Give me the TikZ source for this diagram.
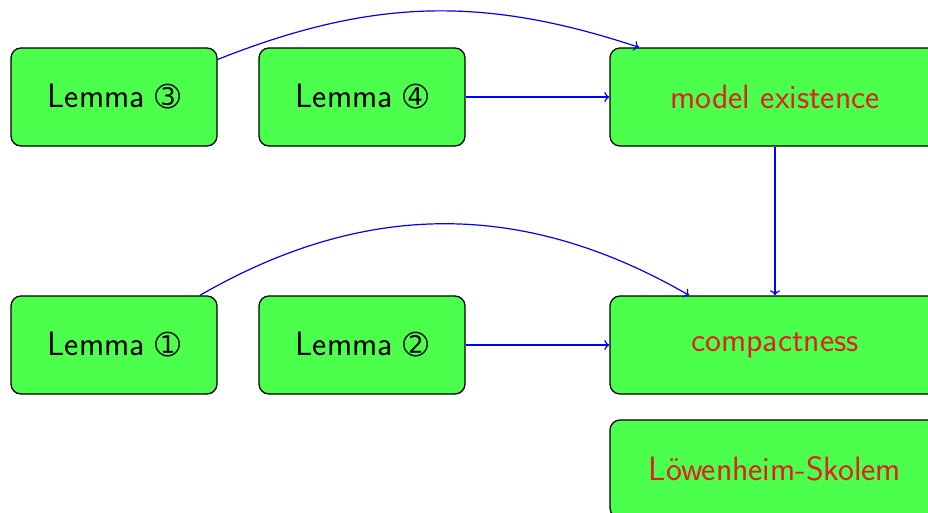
\documentclass[tikz,border=0pt]{standalone}
\usepackage{fontspec}
\usetikzlibrary{arrows.meta}
\newfontfamily\djv{DejaVu Sans}
\definecolor{boxgreen}{rgb}{0.3,1,0.3}
\definecolor{txtred}{RGB}{220,35,35}
\newcommand{\circd}[1]{{\djv\fontsize{30}{36}\selectfont #1}}
\begin{document}
\begin{tikzpicture}[x=1pt,y=-1pt,
  box/.style={draw=black, line width=1.3pt, fill=boxgreen, rounded corners=10pt,
    minimum width=206pt, minimum height=98pt, inner sep=0pt,
    font=\sffamily\fontsize{33.8}{40}\selectfont},
  widebox/.style={box, minimum width=330pt, text=txtred},
  conn/.style={draw=blue, line width=1.2pt,
    -{Computer Modern Rightarrow[length=5pt,width=10pt]}}]
\useasboundingbox (0,0) rectangle (928,512);
\node[box] (l3) at (114,97) {Lemma \circd{➂}};
\node[box] (l4) at (362,97) {Lemma \circd{➃}};
\node[widebox] (me) at (775,97) {model existence};
\node[box] (l1) at (114,345) {Lemma \circd{➀}};
\node[box] (l2) at (362,345) {Lemma \circd{➁}};
\node[widebox] (co) at (775,345) {compactness};
\node[widebox] (ls) at (775,469) {Löwenheim-Skolem};
\draw[conn] (l3) to[bend left=20] (me);
\draw[conn] (l4) -- (me);
\draw[conn] (me) -- (co);
\draw[conn] (l1) to[bend left=30] (co);
\draw[conn] (l2) -- (co);
\end{tikzpicture}
\end{document}
